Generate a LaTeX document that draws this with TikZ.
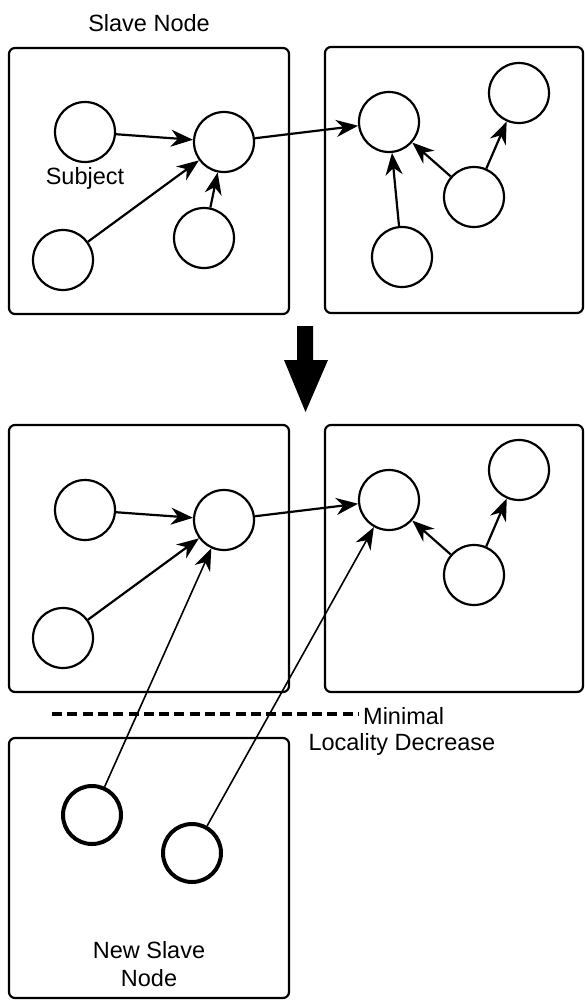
\documentclass[tikz,border=0pt]{standalone}
\usepackage{fontspec}
\setmainfont{Liberation Sans}
\usetikzlibrary{arrows.meta}
\begin{document}
\begin{tikzpicture}[x=1pt,y=-1pt,
  every node/.style={font=\fontsize{23.5pt}{28pt}\selectfont},
  vtx/.style={circle,draw,line width=2.2pt,minimum size=60pt,inner sep=0pt},
  newvtx/.style={circle,draw,line width=4pt,minimum size=58pt,inner sep=0pt},
  frame/.style={draw,line width=2.2pt,rounded corners=6pt},
  edge/.style={line width=2.2pt,-{Stealth[length=22pt,width=17pt,inset=7pt]}},
  thinedge/.style={line width=1.6pt,-{Stealth[length=22pt,width=17pt,inset=7pt]}}]
\useasboundingbox (0,0) rectangle (584,1001);
% frames
\draw[frame] (9,48) rectangle (289,314);
\draw[frame] (325,47) rectangle (583,313);
\draw[frame] (9,425) rectangle (289,692);
\draw[frame] (325,425) rectangle (583,692);
\draw[frame] (9,738) rectangle (289,998);
% labels
\node (lslave) at (149,23) {Slave Node};
\node (lsubj) at (85,178) {Subject};
\node[align=center] (lnew) at (149,964) {New Slave\\Node};
\node[anchor=west,inner sep=1pt] (lmin) at (362,716) {Minimal};
\node[anchor=west] (lloc) at (305,744) {Locality Decrease};
% top graph
\node[vtx] (a) at (85,132) {};
\node[vtx] (b) at (224,142) {};
\node[vtx] (c) at (63,260) {};
\node[vtx] (d) at (204,238) {};
\node[vtx] (e) at (389,122) {};
\node[vtx] (f) at (519,93) {};
\node[vtx] (g) at (474,197) {};
\node[vtx] (h) at (402,257) {};
\draw[edge] (a) -- (b);
\draw[edge] (c) -- (b);
\draw[edge] (d) -- (b);
\draw[edge] (b) -- (e);
\draw[edge] (h) -- (e);
\draw[edge] (g) -- (e);
\draw[edge] (g) -- (f);
% big arrow
\fill (297,326) -- (313,326) -- (313,360) -- (328,360) -- (305.5,412) -- (284,360) -- (297,360) -- cycle;
% bottom graph
\node[vtx] (a2) at (85,510) {};
\node[vtx] (b2) at (224,520) {};
\node[vtx] (c2) at (63,638) {};
\node[vtx] (e2) at (389,500) {};
\node[vtx] (f2) at (519,470) {};
\node[vtx] (g2) at (474,575) {};
\node[newvtx] (n1) at (92,815) {};
\node[newvtx] (n2) at (192,853) {};
\draw[edge] (a2) -- (b2);
\draw[edge] (c2) -- (b2);
\draw[edge] (b2) -- (e2);
\draw[edge] (g2) -- (e2);
\draw[edge] (g2) -- (f2);
\draw[thinedge] (n1) -- (b2);
\draw[thinedge] (n2) -- (e2);
% dashed line
\coordinate (dl) at (52,714);
\coordinate (dr) at (359,714);
\draw[line width=3.5pt,dash pattern=on 10pt off 5.3pt] (dl) -- (dr);
\end{tikzpicture}
\end{document}
